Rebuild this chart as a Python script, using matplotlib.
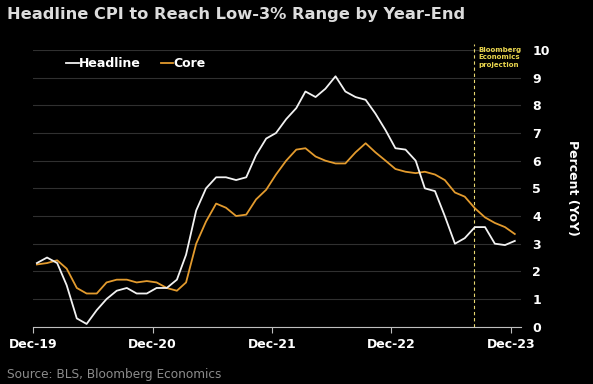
import matplotlib.pyplot as plt
import pandas as pd

# monthly CPI YoY, Dec-2019 .. Dec-2023 (Sep-23 onward is projection)
months = pd.date_range("2019-12-01", periods=49, freq="MS") + pd.Timedelta(days=12)
headline = [2.3, 2.5, 2.3, 1.5, 0.3, 0.1, 0.6, 1.0, 1.3, 1.4, 1.2, 1.2, 1.4,
            1.4, 1.7, 2.6, 4.2, 5.0, 5.4, 5.4, 5.3, 5.4, 6.2, 6.8, 7.0,
            7.5, 7.9, 8.5, 8.3, 8.6, 9.05, 8.5, 8.3, 8.2, 7.7, 7.1, 6.45,
            6.4, 6.0, 5.0, 4.9, 4.0, 3.0, 3.2, 3.6, 3.6, 3.0, 2.95, 3.1]
core = [2.25, 2.3, 2.4, 2.1, 1.4, 1.2, 1.2, 1.6, 1.7, 1.7, 1.6, 1.65, 1.6,
        1.4, 1.3, 1.6, 3.0, 3.8, 4.45, 4.3, 4.0, 4.05, 4.6, 4.95, 5.5,
        6.0, 6.4, 6.45, 6.15, 6.0, 5.9, 5.9, 6.3, 6.63, 6.3, 6.0, 5.7,
        5.6, 5.55, 5.6, 5.5, 5.3, 4.85, 4.7, 4.28, 3.95, 3.75, 3.6, 3.35]
tick_dates = pd.to_datetime(["2019-12-01", "2020-12-01", "2021-12-01",
                             "2022-12-01", "2023-12-01"])
tick_labels = ["Dec-19", "Dec-20", "Dec-21", "Dec-22", "Dec-23"]
projection_start = pd.Timestamp("2023-08-10")

bg = "black"
fig = plt.figure(figsize=(5.93, 3.84), dpi=100, facecolor=bg)
ax = fig.add_axes([0.0556, 0.1492, 0.823, 0.7206], facecolor=bg)

ax.plot(months, core, color="#e39b2e", lw=1.3, label="Core", zorder=3)
ax.plot(months, headline, color="#f2f2f2", lw=1.3, label="Headline", zorder=4)

ax.axvline(projection_start, ymin=0, ymax=1.02, color="#e8d870", lw=0.8,
           ls=(0, (3, 2.5)), clip_on=False, zorder=2)
ax.text(projection_start + pd.Timedelta(days=14), 10.1,
        "Bloomberg\nEconomics\nprojection", color="#e8d44d", fontsize=5,
        fontweight="bold", va="top", ha="left", linespacing=1.25)

ax.set_ylim(0, 10)
ax.set_xlim(pd.Timestamp("2019-12-01"), pd.Timestamp("2024-01-01"))
ax.set_yticks(range(0, 11))
ax.grid(axis="y", color="#303030", lw=0.8)
ax.set_axisbelow(True)

ax.yaxis.tick_right()
ax.yaxis.set_label_position("right")
ax.tick_params(axis="y", length=0, pad=8, labelsize=9, colors="white")
for lab in ax.get_yticklabels():
    lab.set_fontweight("bold")
ax.set_ylabel("Percent (YoY)", rotation=270, color="white", fontsize=9,
              fontweight="bold", labelpad=21)

ax.set_xticks(tick_dates)
ax.set_xticklabels(tick_labels, fontweight="bold")
ax.tick_params(axis="x", length=4, width=0.8, color="#bfbfbf", pad=4,
               labelsize=9, labelcolor="white")

for s in ["top", "left", "right"]:
    ax.spines[s].set_visible(False)
ax.spines["bottom"].set_color("#bfbfbf")
ax.spines["bottom"].set_linewidth(0.8)

handles, labels = ax.get_legend_handles_labels()
leg = ax.legend(handles[::-1], labels[::-1], loc="upper left",
                bbox_to_anchor=(0.045, 1.015), ncol=2, frameon=False,
                handlelength=1.0, handletextpad=0.0, columnspacing=1.6,
                prop={"weight": "bold", "size": 9})
for t in leg.get_texts():
    t.set_color("white")

fig.text(0.012, 0.963, "Headline CPI to Reach Low-3% Range by Year-End",
         color="#dcdcdc", fontsize=11.7, fontweight="bold", va="center")
fig.text(0.012, 0.026, "Source: BLS, Bloomberg Economics", color="#8c8c8c",
         fontsize=8.7, va="center")

fig.savefig("out.png", dpi=100, facecolor=bg)
